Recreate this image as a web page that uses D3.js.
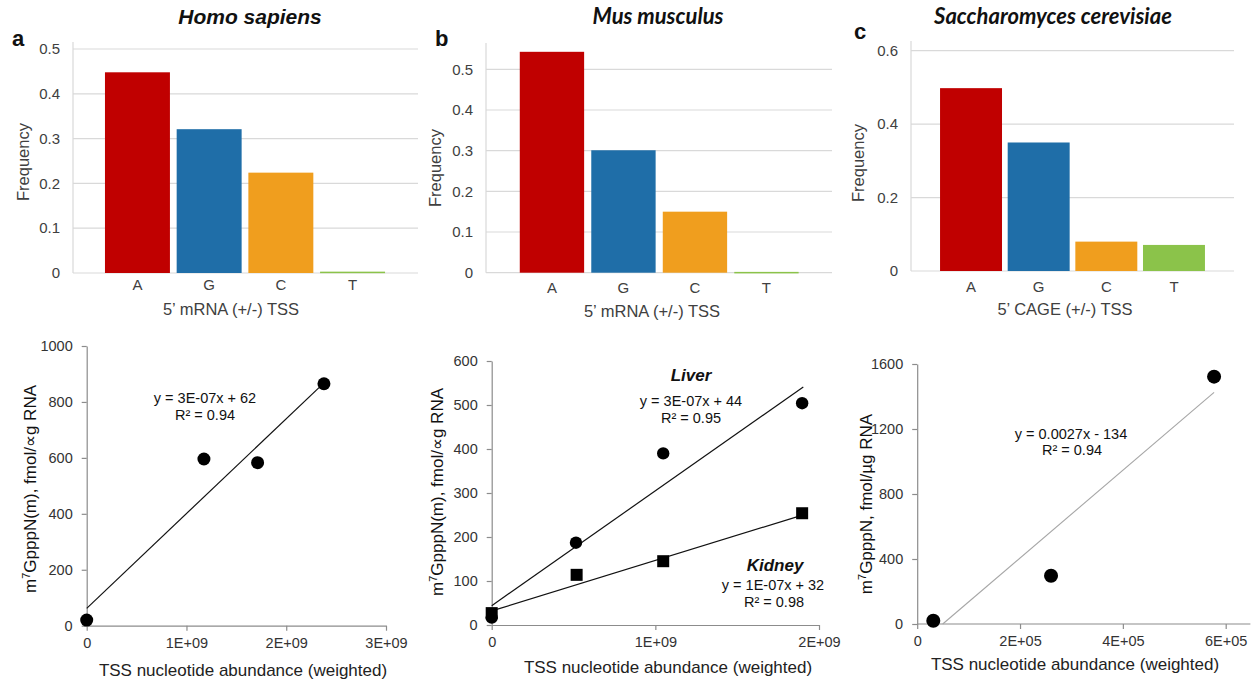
<!DOCTYPE html>
<html><head><meta charset="utf-8">
<script src="https://cdn.jsdelivr.net/npm/d3@7"></script>
<style>
html,body{margin:0;padding:0;background:#fff;}
svg{display:block;font-family:"Liberation Sans",Arial,sans-serif;}
</style></head>
<body>
<svg id="chart" width="1257" height="685"></svg>
<script>
// ---------- DATA ----------
const nucleotides = ["A", "G", "C", "T"];
const barColors = ["#c00000", "#1f6ea8", "#f09e1e", "#8bc34a"];
const humanFreq = [0.448, 0.321, 0.224, 0.003];
const mouseFreq = [0.543, 0.301, 0.150, 0.002];
const yeastFreq = [0.498, 0.350, 0.080, 0.071];
const freqTicksHM = [0, 0.1, 0.2, 0.3, 0.4, 0.5];
const freqTickLabelsHM = ["0", "0.1", "0.2", "0.3", "0.4", "0.5"];
const freqTicksY = [0, 0.2, 0.4, 0.6];
const freqTickLabelsY = ["0", "0.2", "0.4", "0.6"];

const humanX = [0, 1.175e9, 1.713e9, 2.378e9];
const humanY = [20, 596, 583, 865];
const humanFit = [3.39e-7, 62];
const liverX = [0, 0.515e9, 1.048e9, 1.897e9];
const liverY = [17, 187, 390, 504];
const liverFit = [2.61e-7, 44];
const kidneyX = [0, 0.519e9, 1.048e9, 1.897e9];
const kidneyY = [27, 114, 145, 254];
const kidneyFit = [1.147e-7, 32];
const yeastX = [31300, 260300, 577400];
const yeastY = [20, 297, 1522];
const yeastFit = [0.0027, -134];

const sxTicksA = [0, 1e9, 2e9, 3e9], sxLabelsA = ["0", "1E+09", "2E+09", "3E+09"];
const syTicksA = [0, 200, 400, 600, 800, 1000], syLabelsA = ["0", "200", "400", "600", "800", "1000"];
const sxTicksB = [0, 1e9, 2e9], sxLabelsB = ["0", "1E+09", "2E+09"];
const syTicksB = [0, 100, 200, 300, 400, 500, 600], syLabelsB = ["0", "100", "200", "300", "400", "500", "600"];
const sxTicksC = [0, 2e5, 4e5, 6e5], sxLabelsC = ["0", "2E+05", "4E+05", "6E+05"];
const syTicksC = [0, 400, 800, 1200, 1600], syLabelsC = ["0", "400", "800", "1200", "1600"];

// ---------- DRAWING ----------
const svg = d3.select("#chart");

function barPanel(o) {
  const g = svg.append("g");
  const y = d3.scaleLinear().domain(o.yDomain).range([o.y0, o.y1]);
  const x = d3.scaleBand().domain(nucleotides).range(o.band).paddingInner(o.pad).paddingOuter(o.pad / 2);
  g.selectAll(".grid").data(o.ticks).join("line")
    .attr("x1", o.left).attr("x2", o.right)
    .attr("y1", d => y(d)).attr("y2", d => y(d))
    .attr("stroke", "#d9d9d9").attr("stroke-width", 1.2);
  g.append("line").attr("x1", o.left).attr("x2", o.left)
    .attr("y1", o.axisTop).attr("y2", y(0)).attr("stroke", "#d9d9d9").attr("stroke-width", 1.2);
  g.selectAll(".bar").data(o.values).join("rect")
    .attr("x", (d, i) => x(nucleotides[i]))
    .attr("width", x.bandwidth())
    .attr("y", d => y(d))
    .attr("height", d => Math.max(1.5, y(0) - y(d)))
    .attr("fill", (d, i) => barColors[i]);
  g.selectAll(".tl").data(o.ticks).join("text")
    .attr("x", o.left - 13).attr("y", d => y(d)).attr("dy", "0.35em")
    .attr("text-anchor", "end").attr("font-size", 15).attr("fill", "#404040")
    .text((d, i) => o.tickLabels[i]);
  g.selectAll(".cl").data(nucleotides).join("text")
    .attr("x", d => x(d) + x.bandwidth() / 2).attr("y", o.catY)
    .attr("text-anchor", "middle").attr("font-size", 15).attr("fill", "#404040")
    .text(d => d);
  g.append("text").attr("x", o.titleX).attr("y", o.titleY)
    .attr("text-anchor", "middle").attr("font-size", 16.5).attr("fill", "#404040")
    .text(o.xTitle);
  g.append("text").attr("transform", `translate(${o.freqX},${o.freqY}) rotate(-90)`)
    .attr("text-anchor", "middle").attr("font-size", 16.5).attr("fill", "#404040")
    .text("Frequency");
  g.append("text").attr("x", o.letterX).attr("y", o.letterY)
    .attr("font-size", 22).attr("font-weight", "bold").attr("fill", "#111").text(o.letter);
  g.append("text").attr("x", o.headX).attr("y", 24)
    .attr("text-anchor", "middle").attr("font-size", o.headSize).attr("font-weight", "bold")
    .attr("font-style", "italic").attr("font-family", o.headFont).attr("fill", "#111").text(o.head);
}

barPanel({values: humanFreq, ticks: freqTicksHM, tickLabels: freqTickLabelsHM,
  yDomain: [0, 0.5], y0: 273, y1: 49, axisTop: 42, left: 73, right: 418,
  band: [101.6, 388.4], pad: 0.094, catY: 290, xTitle: "5\u2019 mRNA (+/-) TSS", titleX: 231, titleY: 315,
  freqX: 29, freqY: 162, letter: "a", letterX: 12, letterY: 46,
  head: "Homo sapiens", headX: 250, headSize: 21, headFont: "Liberation Sans, Arial, sans-serif"});
barPanel({values: mouseFreq, ticks: freqTicksHM, tickLabels: freqTickLabelsHM,
  yDomain: [0, 0.5], y0: 272.7, y1: 69.3, axisTop: 43, left: 486, right: 832,
  band: [516.2, 802.2], pad: 0.1, catY: 293, xTitle: "5\u2019 mRNA (+/-) TSS", titleX: 652, titleY: 316.5,
  freqX: 441, freqY: 168, letter: "b", letterX: 435, letterY: 46,
  head: "Mus musculus", headX: 658, headSize: 22, headFont: "Lato, sans-serif"});
barPanel({values: yeastFreq, ticks: freqTicksY, tickLabels: freqTickLabelsY,
  yDomain: [0, 0.6], y0: 271, y1: 50.7, axisTop: 41, left: 911, right: 1234,
  band: [937.2, 1207.8], pad: 0.084, catY: 292, xTitle: "5\u2019 CAGE (+/-) TSS", titleX: 1065, titleY: 315,
  freqX: 864, freqY: 163, letter: "c", letterX: 854, letterY: 39,
  head: "Saccharomyces cerevisiae", headX: 1053, headSize: 22, headFont: "Lato, sans-serif"});

function scatterPanel(o) {
  const g = svg.append("g");
  const x = d3.scaleLinear().domain(o.xDomain).range(o.xRange);
  const y = d3.scaleLinear().domain(o.yDomain).range(o.yRange);
  const ax = g.append("g").attr("transform", `translate(0,${o.yRange[0]})`)
    .call(d3.axisBottom(x).tickValues(o.xTicks).tickFormat((d, i) => o.xLabels[i]).tickSize(5).tickSizeOuter(0).tickPadding(7));
  if (o.xExtra) ax.select(".domain").attr("d", `M${o.xRange[0]},0H${x(o.xExtra)}`);
  const ay = g.append("g").attr("transform", `translate(${o.xRange[0]},0)`)
    .call(d3.axisLeft(y).tickValues(o.yTicks).tickFormat((d, i) => o.yLabels[i]).tickSize(5).tickSizeOuter(0).tickPadding(9));
  [ax, ay].forEach(a => {
    a.attr("font-size", 14.5).attr("font-family", "Liberation Sans, Arial, sans-serif");
    a.selectAll("path,line").attr("stroke", "#8c8c8c").attr("stroke-width", 1.2);
    a.selectAll("text").attr("fill", "#333");
  });
  o.fits.forEach(f => {
    const x0 = f.from !== undefined ? f.from : 0;
    g.append("line")
      .attr("x1", x(x0)).attr("y1", y(f.c[0] * x0 + f.c[1]))
      .attr("x2", x(f.to)).attr("y2", y(f.c[0] * f.to + f.c[1]))
      .attr("stroke", f.color).attr("stroke-width", f.w);
  });
  o.series.forEach(s => {
    const pts = s.x.map((v, i) => [v, s.y[i]]);
    if (s.shape === "square") {
      g.selectAll(null).data(pts).join("rect")
        .attr("x", d => x(d[0]) - s.r).attr("y", d => y(d[1]) - s.r)
        .attr("width", 2 * s.r).attr("height", 2 * s.r).attr("fill", "#000");
    } else {
      g.selectAll(null).data(pts).join("circle")
        .attr("cx", d => x(d[0])).attr("cy", d => y(d[1])).attr("r", s.r).attr("fill", "#000");
    }
  });
  o.notes.forEach(n => {
    g.append("text").attr("x", n.x).attr("y", n.y).attr("text-anchor", "middle")
      .attr("font-size", n.size || 14.5).attr("fill", "#111")
      .attr("font-weight", n.bold ? "bold" : null).attr("font-style", n.bold ? "italic" : null)
      .text(n.t);
  });
  g.append("text").attr("x", o.xTitleX).attr("y", o.xTitleY).attr("text-anchor", "middle")
    .attr("font-size", 17).attr("fill", "#222").text("TSS nucleotide abundance (weighted)");
  const yl = g.append("text").attr("transform", `translate(${o.yTitleX},${o.yTitleY}) rotate(-90)`)
    .attr("text-anchor", "middle").attr("font-size", 17).attr("fill", "#111");
  yl.append("tspan").text("m");
  yl.append("tspan").attr("font-size", 11).attr("dy", -6).text("7");
  yl.append("tspan").attr("dy", 6).text(o.yTitleRest);
}

scatterPanel({xDomain: [0, 3e9], xRange: [86.7, 386], yDomain: [0, 1000], yRange: [625.7, 346],
  xTicks: sxTicksA, xLabels: sxLabelsA, yTicks: syTicksA, yLabels: syLabelsA,
  fits: [{c: humanFit, to: d3.max(humanX) - 2.3e7, color: "#111", w: 1.2}],
  series: [{x: humanX, y: humanY, shape: "circle", r: 6.5}],
  notes: [{t: "y = 3E-07x + 62", x: 205, y: 403}, {t: "R\u00b2 = 0.94", x: 205, y: 420}],
  xTitleX: 243, xTitleY: 676, yTitleX: 36, yTitleY: 489, yTitleRest: "GpppN(m), fmol/\u221dg RNA"});

scatterPanel({xDomain: [0, 2e9], xRange: [491.7, 819], yDomain: [0, 600], yRange: [625, 361],
  xTicks: sxTicksB, xLabels: sxLabelsB, yTicks: syTicksB, yLabels: syLabelsB,
  fits: [{c: liverFit, to: 1.904e9, color: "#111", w: 1.2}, {c: kidneyFit, to: 1.904e9, color: "#111", w: 1.2}],
  series: [{x: liverX, y: liverY, shape: "circle", r: 6.2}, {x: kidneyX, y: kidneyY, shape: "square", r: 6}],
  notes: [{t: "Liver", x: 691, y: 381, bold: true, size: 17},
          {t: "y = 3E-07x + 44", x: 691, y: 406}, {t: "R\u00b2 = 0.95", x: 691, y: 423},
          {t: "Kidney", x: 775, y: 571, bold: true, size: 17},
          {t: "y = 1E-07x + 32", x: 773, y: 590}, {t: "R\u00b2 = 0.98", x: 774, y: 607}],
  xTitleX: 668, xTitleY: 673, yTitleX: 443, yTitleY: 492, yTitleRest: "GpppN(m), fmol/\u221dg RNA"});

scatterPanel({xDomain: [0, 6e5], xRange: [917.2, 1225.7], yDomain: [0, 1600], yRange: [624, 364],
  xExtra: 6.48e5,
  xTicks: sxTicksC, xLabels: sxLabelsC, yTicks: syTicksC, yLabels: syLabelsC,
  fits: [{c: yeastFit, from: -yeastFit[1] / yeastFit[0], to: d3.max(yeastX), color: "#a6a6a6", w: 1.1}],
  series: [{x: yeastX, y: yeastY, shape: "circle", r: 7}],
  notes: [{t: "y = 0.0027x - 134", x: 1071, y: 439}, {t: "R\u00b2 = 0.94", x: 1072, y: 455}],
  xTitleX: 1075, xTitleY: 670, yTitleX: 872, yTitleY: 504, yTitleRest: "GpppN, fmol/\u00b5g RNA"});
</script>
</body></html>
